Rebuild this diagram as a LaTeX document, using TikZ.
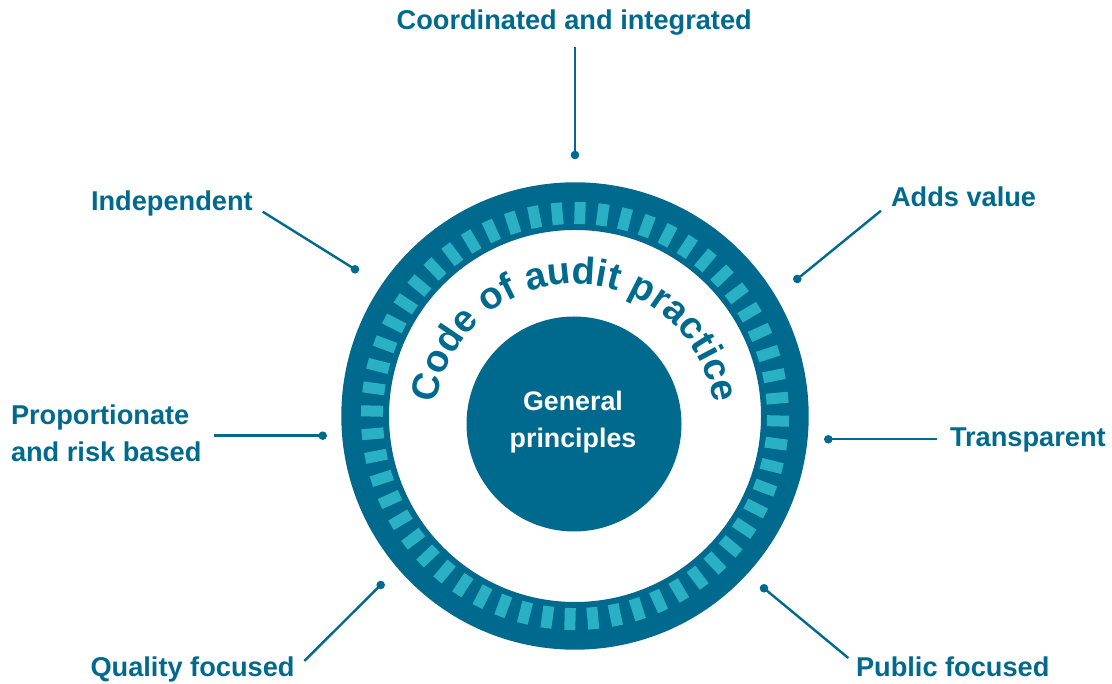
\documentclass[tikz,border=0pt]{standalone}
\usepackage{fontspec}
\setmainfont{Liberation Sans}
\usetikzlibrary{decorations.text,calc}
\definecolor{dark}{RGB}{0,106,142}
\definecolor{light}{RGB}{42,176,196}
\newcommand{\codefont}{\fontsize{38}{38}\selectfont\bfseries}
\begin{document}
\begin{tikzpicture}[x=1pt,y=1pt,
  lab/.style={text=dark, font=\fontsize{27.2}{36.7}\selectfont\bfseries, inner sep=0pt, outer sep=0pt},
  wlab/.style={text=white, font=\fontsize{26.8}{36.7}\selectfont\bfseries, inner sep=0pt, align=center},
  dot/.style={circle, fill=dark, inner sep=0pt, minimum size=8.6pt},
  conn/.style={draw=dark, line width=2.4pt}
]
\useasboundingbox (0,0) rectangle (1112,684);
\coordinate (C) at (575,268);
% outer ring
\fill[dark, even odd rule] (C) circle[radius=233.7] (C) circle[radius=186];
\foreach \k in {0,...,55}{
  \pgfmathsetmacro{\a}{88.6+6.428571*\k}
  \draw[light, line width=11pt] ($(C)+(\a:192)$) -- ($(C)+(\a:214)$);
}
% inner circle
\node[circle, fill=dark, minimum size=215pt, inner sep=0pt] (core) at (574,260) {};
\node[wlab] (gp) at (573,262) {General\\principles};
% curved title
\path[decorate, decoration={text along path, text align=center,
  text={|\codefont\color{dark}|Code of audit practice}}]
  (575,260) ++(180:140) arc[start angle=180, end angle=0, radius=140];
% labels
\node[lab, anchor=base] (coord) at (574.2,654) {Coordinated and integrated};
\node[lab, anchor=base west] (indep) at (91,473.3) {Independent};
\node[lab, anchor=base west] (adds) at (891,477.3) {Adds value};
\node[lab, anchor=base west] (transp) at (950,237) {Transparent};
\node[lab, anchor=base west, align=left] (prop) at (11,222.3) {Proportionate\\and risk based};
\node[lab, anchor=base west] (qual) at (90.5,7) {Quality focused};
\node[lab, anchor=base west] (pub) at (856,7) {Public focused};
% dots
\node[dot] (d1) at (575,529) {};
\node[dot] (d2) at (355,414.7) {};
\node[dot] (d3) at (797.3,405) {};
\node[dot] (d4) at (828.3,244.7) {};
\node[dot] (d5) at (322.7,248.3) {};
\node[dot] (d6) at (380.7,99) {};
\node[dot] (d7) at (764,95.7) {};
% connector ends
\coordinate (e1) at (575,637);
\coordinate (e2) at (262.7,472.3);
\coordinate (e3) at (881,473.3);
\coordinate (e4) at (936.7,244.7);
\coordinate (e5) at (214,248.3);
\coordinate (e6) at (304.3,23);
\coordinate (e7) at (848.3,26);
\foreach \i in {1,...,7}{ \draw[conn] (e\i) -- (d\i.center); }
\end{tikzpicture}
\end{document}
